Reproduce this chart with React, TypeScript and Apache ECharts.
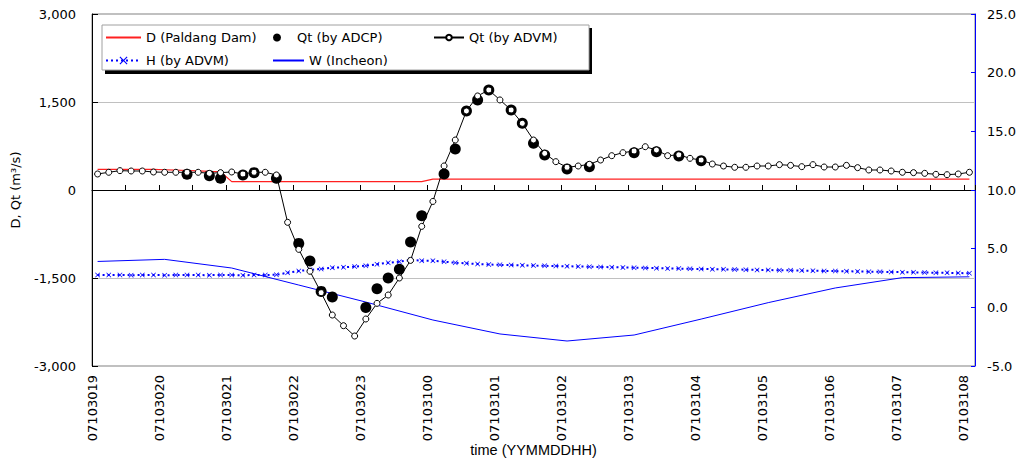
import React, { useEffect, useRef } from "react";
import * as echarts from "echarts";

// x tick labels (one per hour, starting 2007-10-30 19h)
const tickLabels = [
  "07103019", "07103020", "07103021", "07103022", "07103023", "07103100", "07103101",
  "07103102", "07103103", "07103104", "07103105", "07103106", "07103107", "07103108",
];

// ADVM samples every 10 min, first at 19:05 (minutes after 19:00)
const advmMinutes = [
  5, 15, 25, 35, 45, 55, 65, 75, 85, 95, 105, 115, 125, 135, 145, 155, 165, 175, 185, 195,
  205, 215, 225, 235, 245, 255, 265, 275, 285, 295, 305, 315, 325, 335, 345, 355, 365, 375, 385, 395,
  405, 415, 425, 435, 445, 455, 465, 475, 485, 495, 505, 515, 525, 535, 545, 555, 565, 575, 585, 595,
  605, 615, 625, 635, 645, 655, 665, 675, 685, 695, 705, 715, 725, 735, 745, 755, 765, 775, 785,
];

// Qt by ADVM (m3/s)
const qtAdvm = [
  273, 302, 330, 324, 324, 307, 302, 302, 302, 302, 284, 296, 307, 273, 302, 302, 256, -551, -1012, -1385,
  -1750, -2131, -2313, -2489, -2199, -1932, -1790, -1500, -1200, -620, -195, 410, 852, 1347, 1603, 1705, 1535, 1364, 1137, 852,
  625, 483, 387, 409, 438, 511, 585, 636, 665, 738, 682, 585, 600, 540, 511, 443, 409, 387, 387, 409,
  409, 432, 420, 398, 432, 392, 392, 420, 381, 341, 341, 324, 302, 296, 284, 267, 261, 273, 302,
];

// D (Paldang Dam) discharge (m3/s), same times as ADVM
const damD = [
  350, 350, 350, 350, 350, 350, 345, 338, 332, 325, 318, 312, 142, 142, 142, 142, 142, 142, 142, 142,
  142, 142, 142, 142, 142, 142, 142, 142, 142, 142, 184, 184, 184, 184, 184, 184, 184, 184, 184, 184,
  184, 184, 184, 184, 184, 184, 184, 184, 184, 184, 184, 184, 184, 184, 184, 184, 184, 184, 184, 184,
  184, 184, 184, 184, 184, 184, 184, 184, 184, 184, 184, 184, 184, 184, 184, 184, 184, 184, 184,
];

// H by ADVM (m), right axis
const hAdvm = [
  2.76, 2.75, 2.76, 2.74, 2.75, 2.76, 2.74, 2.75, 2.76, 2.75, 2.74, 2.76, 2.75, 2.74, 2.75, 2.76, 2.77, 2.95, 3.1, 3.2,
  3.27, 3.38, 3.41, 3.47, 3.55, 3.67, 3.8, 3.89, 4.03, 3.98, 3.97, 3.89, 3.8, 3.75, 3.69, 3.65, 3.62, 3.6, 3.58, 3.56,
  3.54, 3.52, 3.5, 3.48, 3.46, 3.44, 3.42, 3.4, 3.38, 3.36, 3.34, 3.32, 3.3, 3.28, 3.27, 3.25, 3.24, 3.22, 3.21, 3.19,
  3.18, 3.16, 3.15, 3.13, 3.12, 3.1, 3.09, 3.07, 3.06, 3.04, 3.03, 3.01, 3.0, 2.98, 2.97, 2.95, 2.94, 2.92, 2.91,
];

// Qt by ADCP (m3/s)
const adcpMinutes = [
  85, 105, 115, 135, 145, 165, 185, 195, 205, 215, 245, 255, 265, 275, 285, 295, 315, 325, 335, 345,
  355, 375, 385, 395, 405, 425, 445, 485, 505, 525, 545,
];
const qtAdcp = [
  267, 245, 200, 256, 296, 200, -910, -1211, -1728, -1825, -2003, -1685, -1500, -1350, -887, -440, 273, 699, 1347, 1535,
  1705, 1364, 1137, 796, 597, 358, 398, 636, 653, 580, 500,
];

// W (Incheon) tide level, hourly
const incheonMinutes = [5, 65, 125, 185, 245, 305, 365, 425, 485, 545, 605, 665, 725, 785];
const incheonW = [3.91, 4.09, 3.35, 1.9, 0.45, -1.08, -2.27, -2.87, -2.36, -1.0, 0.4, 1.65, 2.53, 2.6];

const FONT = "DejaVu Sans";
const xCross = "path://M0,1 L1,0 L5,4 L9,0 L10,1 L6,5 L10,9 L9,10 L5,6 L1,10 L0,9 L4,5 Z";

export default function App() {
  const ref = useRef<HTMLDivElement>(null);
  useEffect(() => {
    document.body.style.margin = "0";
    const chart = echarts.init(ref.current!, null, { renderer: "svg" });
    const zip = (xs: number[], ys: number[]) => xs.map((x, i) => [x, ys[i]]);
    const legendBase = {
      orient: "horizontal",
      padding: 0,
      itemHeight: 10,
      z: 10,
      textStyle: { fontFamily: FONT, fontSize: 13, color: "#000" },
      selectedMode: false,
    };
    chart.setOption({
      animation: false,
      backgroundColor: "#fff",
      grid: {
        left: 92, right: 48, top: 14, bottom: 95,
        outerBoundsMode: "none",
        containLabel: false,
        show: true, borderColor: "#808080", borderWidth: 1, backgroundColor: "#fff",
      },
      xAxis: {
        type: "value",
        min: 0,
        max: 790,
        interval: 60,
        name: "time (YYMMDDHH)",
        nameLocation: "middle",
        nameGap: 76,
        nameMoveOverlap: false,
        nameTextStyle: { fontFamily: "Liberation Sans", fontSize: 14.5, color: "#000" },
        axisLine: { show: true, lineStyle: { color: "#000", width: 1 } },
        axisTick: { show: true, inside: true, length: 5, lineStyle: { color: "#000" } },
        minorTick: { show: true, splitNumber: 2, length: 5, lineStyle: { color: "#000" } },
        splitLine: { show: false },
        axisLabel: {
          rotate: 90,
          margin: 9,
          fontFamily: FONT,
          fontSize: 13,
          color: "#000",
          showMaxLabel: false,
          formatter: (v: number) => (v % 60 === 0 ? tickLabels[v / 60] ?? "" : ""),
        },
      },
      yAxis: [
        {
          type: "value",
          min: -3000,
          max: 3000,
          interval: 1500,
          name: "D, Qt (m³/s)",
          nameLocation: "middle",
          nameGap: 70,
          nameMoveOverlap: false,
          nameTextStyle: { fontFamily: FONT, fontSize: 13, color: "#000" },
          axisLine: { show: true, lineStyle: { color: "#000", width: 1 } },
          axisTick: { show: true, inside: true, length: 6, lineStyle: { color: "#000" } },
          splitLine: { show: true, lineStyle: { color: "#c0c0c0", width: 1 } },
          axisLabel: {
            margin: 16,
            fontFamily: FONT,
            fontSize: 13,
            color: "#000",
            formatter: (v: number) => v.toLocaleString("en-US"),
          },
        },
        {
          type: "value",
          position: "right",
          min: -5,
          max: 25,
          interval: 5,
          axisLine: { show: true, lineStyle: { color: "#0000ff", width: 1 } },
          axisTick: { show: true, inside: true, length: 4, lineStyle: { color: "#0000ff" } },
          splitLine: { show: false },
          axisLabel: {
            margin: 12,
            fontFamily: FONT,
            fontSize: 13,
            color: "#000",
            formatter: (v: number) => v.toFixed(1),
          },
        },
      ],
      graphic: [
        { type: "rect", z: 5, shape: { x: 105, y: 28, width: 487, height: 46 }, style: { fill: "#000" } },
        {
          type: "rect", z: 6,
          shape: { x: 102, y: 25, width: 487, height: 45 },
          style: { fill: "#fff", stroke: "#a0a0a0", lineWidth: 1 },
        },
      ],
      legend: [
        { ...legendBase, data: ["D (Paldang Dam)"], left: 105, top: 31, itemWidth: 35, itemStyle: { opacity: 0 } },
        { ...legendBase, data: ["Qt (by ADCP)"], left: 273, top: 31, itemWidth: 30, itemHeight: 8 },
        { ...legendBase, data: ["Qt (by ADVM)"], left: 433, top: 31, itemWidth: 30, itemHeight: 7 },
        { ...legendBase, data: ["H (by ADVM)"], left: 105, top: 54, itemWidth: 35 },
        { ...legendBase, data: ["W (Incheon)"], left: 272, top: 54, itemWidth: 31, itemStyle: { opacity: 0 } },
      ],
      series: [
        {
          name: "D (Paldang Dam)",
          type: "line",
          yAxisIndex: 0,
          data: zip(advmMinutes, damD),
          symbol: "none",
          lineStyle: { color: "#ff2020", width: 1.2 },
          itemStyle: { color: "#ff2020" },
          z: 2,
        },
        {
          name: "H (by ADVM)",
          type: "line",
          yAxisIndex: 1,
          data: zip(advmMinutes, hAdvm),
          symbol: xCross,
          symbolSize: 5,
          lineStyle: { color: "#0000ff", width: 2, type: [2, 3] },
          itemStyle: { color: "#0000ff" },
          z: 2,
        },
        {
          name: "W (Incheon)",
          type: "line",
          yAxisIndex: 1,
          data: zip(incheonMinutes, incheonW),
          symbol: "none",
          lineStyle: { color: "#0000ff", width: 1 },
          itemStyle: { color: "#0000ff" },
          z: 2,
        },
        {
          name: "Qt (by ADCP)",
          type: "scatter",
          yAxisIndex: 0,
          data: zip(adcpMinutes, qtAdcp),
          symbol: "circle",
          symbolSize: 11,
          itemStyle: { color: "#000", opacity: 1 },
          z: 3,
        },
        {
          name: "Qt (by ADVM)",
          type: "line",
          yAxisIndex: 0,
          data: zip(advmMinutes, qtAdvm),
          symbol: "circle",
          symbolSize: 6,
          showAllSymbol: true,
          lineStyle: { color: "#000", width: 1 },
          itemStyle: { color: "#fff", borderColor: "#000", borderWidth: 1 },
          z: 4,
        },
      ],
    });
    return () => chart.dispose();
  }, []);
  return (
    <div
      ref={ref}
      style={{ position: "absolute", left: 0, top: 0, width: 1023, height: 461, background: "#fff" }}
    />
  );
}
